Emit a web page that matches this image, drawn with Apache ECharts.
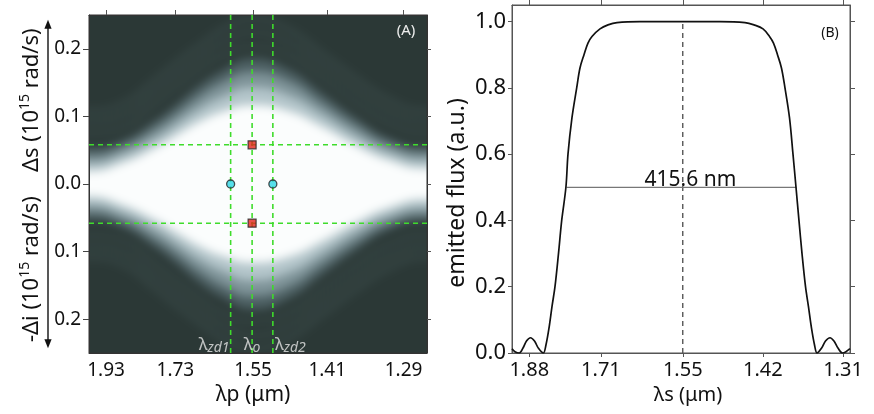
<!DOCTYPE html>
<html><head><meta charset="utf-8">
<script src="https://cdn.jsdelivr.net/npm/echarts@6/dist/echarts.min.js"></script>
<style>
html,body{margin:0;padding:0;background:#fff}
#wrap{position:relative;width:874px;height:414px;overflow:hidden}
#c{position:absolute;left:0;top:0;width:874px;height:414px;z-index:2}
#clipA{position:absolute;left:89px;top:15px;width:338px;height:338px;overflow:hidden;z-index:1;background:#2b3836}
#heat{position:absolute;left:-60px;top:-60px;width:458px;height:458px;filter:blur(5px);background:#2b3836}
</style>
</head><body><div id="wrap"><div id="clipA"><div id="heat"></div></div><div id="c"></div></div>
<script>
// ---------- Panel A : tick labels ----------
const pumpTickLabels = ['1.93', '1.73', '1.55', '1.41', '1.29'];
const detuningTicks = [-0.2, -0.1, 0.0, 0.1, 0.2];
// pump wavelength samples (um) where the contour half-heights were read
const pumpSampleLambda = [2.12, 1.986, 1.880, 1.782, 1.728, 1.671, 1.617, 1.552, 1.479, 1.419, 1.362, 1.311, 1.259, 1.20];
// half-height (1e15 rad/s) of the bright phase-matching region at several intensity levels
const contour12 = [0.054, 0.054, 0.064, 0.095, 0.118, 0.146, 0.168, 0.186, 0.170, 0.135, 0.098, 0.068, 0.055, 0.055];
const contour37 = [0.042, 0.042, 0.054, 0.082, 0.103, 0.129, 0.150, 0.166, 0.152, 0.119, 0.085, 0.058, 0.046, 0.046];
const contour62 = [0.031, 0.031, 0.043, 0.068, 0.088, 0.111, 0.129, 0.143, 0.131, 0.103, 0.071, 0.047, 0.035, 0.035];
const contour87 = [0.019, 0.019, 0.031, 0.054, 0.072, 0.092, 0.107, 0.117, 0.108, 0.085, 0.057, 0.035, 0.023, 0.023];
// faint side-lobe ripples
const ripple1 = [0.075, 0.075, 0.083, 0.118, 0.142, 0.167, 0.190, 0.203, 0.190, 0.156, 0.119, 0.089, 0.075, 0.075];
const ripple2 = [0.092, 0.092, 0.101, 0.137, 0.161, 0.186, 0.209, 0.224, 0.209, 0.175, 0.138, 0.107, 0.092, 0.092];
const ripple3 = [0.108, 0.108, 0.118, 0.155, 0.179, 0.204, 0.228, 0.244, 0.228, 0.193, 0.156, 0.124, 0.108, 0.108];
// special wavelengths / detunings
const zeroDispLambda = [1.598, 1.510];
const zeroDispNames = ['zd1', 'zd2'];
const pumpLambda0 = 1.552;
const phaseMatchDetuning = [0.058, -0.058];

// ---------- Panel B ----------
const signalTickLabels = ['1.88', '1.71', '1.55', '1.42', '1.31'];
const fluxTicks = [0, 0.2, 0.4, 0.6, 0.8, 1.0];
const signalLambda = [1.9260, 1.9179, 1.9063, 1.8964, 1.8872, 1.8767, 1.8664, 1.8562, 1.8440, 1.8373, 1.8299, 1.8225,
  1.8152, 1.8067, 1.7990, 1.7890, 1.7841, 1.7748, 1.7639, 1.7564, 1.7473, 1.7384, 1.7295, 1.7120, 1.6949, 1.6760,
  1.6297, 1.5531, 1.4867, 1.4470, 1.4332, 1.4197, 1.4101, 1.4043, 1.3985, 1.3928, 1.3878, 1.3814, 1.3765, 1.3723,
  1.3682, 1.3640, 1.3592, 1.3552, 1.3511, 1.3471, 1.3437, 1.3378, 1.3325, 1.3266, 1.3215, 1.3164, 1.3106, 1.3062, 1.3012];
const flux = [0.013, 0.004, 0.0, 0.015, 0.036, 0.046, 0.036, 0.014, 0.0, 0.025, 0.075, 0.14,
  0.20, 0.30, 0.40, 0.50, 0.60, 0.71, 0.80, 0.86, 0.90, 0.935, 0.955, 0.978, 0.99, 0.997,
  1.0, 1.0, 1.0, 0.997, 0.99, 0.978, 0.955, 0.935, 0.90, 0.86, 0.80, 0.71, 0.60, 0.50,
  0.40, 0.30, 0.20, 0.14, 0.075, 0.025, 0.0, 0.014, 0.036, 0.046, 0.036, 0.015, 0.0, 0.004, 0.013];
const halfMaxLambda = [1.7875, 1.3719];
const halfMaxLevel = 0.5;
const fwhmText = '415.6 nm';
const centerSignalLambda = 1.55;

// ---------- shared ----------
const FONT = 'Noto Sans';
const inv = l => 1 / l;
const pumpTickVals = pumpTickLabels.map(s => inv(parseFloat(s)));
const signalTickVals = signalTickLabels.map(s => inv(parseFloat(s)));
const A_MIN = 0.50343, A_MAX = 0.79541, A_YMIN = -0.25, A_YMAX = 0.25;
const B_MIN = 0.51920, B_MAX = 0.76854;

// ---------- heat layer (panel A background, softened with a CSS blur) ----------
const PAD = 30; // px of extra plot area hidden outside the clip
const exX = PAD * (A_MAX - A_MIN) / 338, exY = PAD * (A_YMAX - A_YMIN) / 338;
function band(arr, sign, color) {
  return {
    type: 'line', silent: true, symbol: 'none', smooth: true, z: 1,
    data: pumpSampleLambda.map((l, i) => [inv(l), sign * arr[i]]),
    lineStyle: { opacity: 0 },
    areaStyle: { color: color, opacity: 1, origin: 0 }
  };
}
function ripple(arr, sign) {
  return {
    type: 'line', silent: true, symbol: 'none', smooth: true, z: 1,
    data: pumpSampleLambda.map((l, i) => [inv(l), sign * arr[i]]),
    lineStyle: { color: 'rgba(120,150,150,0.2)', width: 4 }
  };
}
const heatSeries = [];
[ripple1, ripple2, ripple3].forEach(r => { heatSeries.push(ripple(r, 1)); heatSeries.push(ripple(r, -1)); });
const levels = [contour12, contour37, contour62, contour87];
const levelColors = ['#4c5f62', '#7e9398', '#b3c5ca', '#fbfdfd'];
levels.forEach((c, i) => { heatSeries.push(band(c, 1, levelColors[i])); heatSeries.push(band(c, -1, levelColors[i])); });

const heat = echarts.init(document.getElementById('heat'));
heat.setOption({
  animation: false,
  backgroundColor: '#2b3836',
  grid: { left: PAD, top: PAD, width: 338 + 2 * PAD, height: 338 + 2 * PAD, show: false },
  xAxis: { type: 'value', min: A_MIN - exX, max: A_MAX + exX, show: false },
  yAxis: { type: 'value', min: A_YMIN - exY, max: A_YMAX + exY, show: false },
  series: heatSeries
});

// ---------- main chart ----------
const green = { color: '#3fdc2c', type: [5, 4], width: 1.6 };
const series = [];
function vline(x) { return { type: 'line', xAxisIndex: 0, yAxisIndex: 0, symbol: 'none', silent: true, z: 3, lineStyle: green, data: [[x, A_YMIN], [x, A_YMAX]] }; }
function hline(y) { return { type: 'line', xAxisIndex: 0, yAxisIndex: 0, symbol: 'none', silent: true, z: 3, lineStyle: green, data: [[A_MIN, y], [A_MAX, y]] }; }
series.push(vline(inv(zeroDispLambda[0])), vline(inv(pumpLambda0)), vline(inv(zeroDispLambda[1])));
phaseMatchDetuning.forEach(d => series.push(hline(d)));
series.push({
  type: 'scatter', xAxisIndex: 0, yAxisIndex: 0, z: 5, silent: true,
  symbol: 'rect', symbolSize: 8,
  itemStyle: { color: '#e5231b', borderColor: '#222', borderWidth: 1.2 },
  data: phaseMatchDetuning.map(d => [inv(pumpLambda0), d])
});
series.push({
  type: 'scatter', xAxisIndex: 0, yAxisIndex: 0, z: 5, silent: true,
  symbol: 'circle', symbolSize: 8,
  itemStyle: { color: '#2fd6e6', borderColor: '#222', borderWidth: 1.3 },
  data: zeroDispLambda.map(l => [inv(l), 0])
});
const lblRich = {
  l: { fontSize: 17, color: '#e6e6e6', fontFamily: FONT, lineHeight: 20 },
  s: { fontSize: 14, color: '#e6e6e6', fontFamily: FONT, fontStyle: 'italic', verticalAlign: 'bottom', lineHeight: 20, padding: [5, 0, 0, 0] }
};
series.push({
  type: 'scatter', xAxisIndex: 0, yAxisIndex: 0, z: 6, silent: true, symbolSize: 0.1,
  itemStyle: { color: 'rgba(0,0,0,0)' },
  label: { show: true, rich: lblRich },
  data: [
    { value: [inv(zeroDispLambda[0]), -0.238], label: { position: 'left', distance: 1, formatter: '{l|λ}{s|' + zeroDispNames[0] + '}' } },
    { value: [inv(pumpLambda0), -0.238], label: { position: 'inside', formatter: '{l|λ}{s|o}' } },
    { value: [inv(zeroDispLambda[1]), -0.238], label: { position: 'right', distance: 2, formatter: '{l|λ}{s|' + zeroDispNames[1] + '}' } }
  ]
});

// Panel B
series.push({
  type: 'line', xAxisIndex: 2, yAxisIndex: 2, symbol: 'none', smooth: 0.35, silent: true, z: 4,
  data: signalLambda.map((l, i) => [inv(l), flux[i]]),
  lineStyle: { color: '#111', width: 1.7 }
});
series.push({
  type: 'line', xAxisIndex: 2, yAxisIndex: 2, symbol: 'none', silent: true, z: 2,
  data: [[inv(centerSignalLambda), 0], [inv(centerSignalLambda), 1.0]],
  lineStyle: { color: '#555', type: [5, 4], width: 1.4 }
});
series.push({
  type: 'line', xAxisIndex: 2, yAxisIndex: 2, symbol: 'none', silent: true, z: 2,
  data: halfMaxLambda.map(l => [inv(l), halfMaxLevel]),
  lineStyle: { color: '#777', width: 1.2 },
  markPoint: {
    silent: true, symbol: 'circle', symbolSize: 0.1, itemStyle: { color: 'rgba(0,0,0,0)' },
    label: { show: true, position: 'top', distance: 0, formatter: fwhmText, fontSize: 21, color: '#111', fontFamily: FONT, offset: [9, 3] },
    data: [{ coord: [(inv(halfMaxLambda[0]) + inv(halfMaxLambda[1])) / 2, halfMaxLevel] }]
  }
});

const axisTxt = { color: '#111', fontFamily: FONT };
const option = {
  animation: false,
  backgroundColor: 'transparent',
  textStyle: { fontFamily: FONT },
  grid: [
    { left: 89, top: 15, width: 338, height: 338, show: true, backgroundColor: 'transparent', borderColor: '#333', borderWidth: 1 },
    { left: 512, top: 5, width: 338, height: 348, show: true, backgroundColor: 'transparent', borderColor: '#555', borderWidth: 1 }
  ],
  xAxis: [
    { gridIndex: 0, type: 'value', min: A_MIN, max: A_MAX, position: 'bottom',
      axisLine: { onZero: false, lineStyle: { color: '#333' } }, axisTick: { show: false }, splitLine: { show: false },
      axisLabel: Object.assign({ customValues: pumpTickVals, formatter: v => (1 / v).toFixed(2), fontSize: 19, margin: 8 }, axisTxt),
      name: 'λp (μm)', nameLocation: 'middle', nameGap: 30,
      nameTextStyle: Object.assign({ fontSize: 21, padding: [0, 10, 0, 0] }, axisTxt) },
    { gridIndex: 0, type: 'value', min: A_MIN, max: A_MAX, position: 'top',
      axisLine: { onZero: false, lineStyle: { color: '#333' } },
      axisTick: { show: true, customValues: pumpTickVals, length: 5, lineStyle: { color: '#555' } },
      axisLabel: { show: false }, splitLine: { show: false } },
    { gridIndex: 1, type: 'value', min: B_MIN, max: B_MAX, position: 'bottom',
      axisLine: { onZero: false, lineStyle: { color: '#555' } },
      axisTick: { show: true, customValues: signalTickVals, length: 4, lineStyle: { color: '#555' } }, splitLine: { show: false },
      axisLabel: Object.assign({ customValues: signalTickVals, formatter: v => (1 / v).toFixed(2), fontSize: 20, margin: 7 }, axisTxt),
      name: 'λs (μm)', nameLocation: 'middle', nameGap: 28,
      nameTextStyle: Object.assign({ fontSize: 20, padding: [0, 0, 0, 14] }, axisTxt) },
    { gridIndex: 1, type: 'value', min: B_MIN, max: B_MAX, position: 'top',
      axisLine: { onZero: false, lineStyle: { color: '#555' } },
      axisTick: { show: true, customValues: signalTickVals, length: 5, lineStyle: { color: '#555' } },
      axisLabel: { show: false }, splitLine: { show: false } }
  ],
  yAxis: [
    { gridIndex: 0, type: 'value', min: A_YMIN, max: A_YMAX, position: 'left',
      axisLine: { onZero: false, lineStyle: { color: '#333' } },
      axisTick: { show: true, customValues: detuningTicks, length: 6, lineStyle: { color: '#444' } }, splitLine: { show: false },
      axisLabel: Object.assign({ customValues: detuningTicks, formatter: v => Math.abs(v).toFixed(1), fontSize: 19, margin: 8 }, axisTxt) },
    { gridIndex: 0, type: 'value', min: A_YMIN, max: A_YMAX, position: 'right',
      axisLine: { onZero: false, lineStyle: { color: '#333' } },
      axisTick: { show: true, customValues: detuningTicks, length: 4, lineStyle: { color: '#555' } },
      axisLabel: { show: false }, splitLine: { show: false } },
    { gridIndex: 1, type: 'value', min: 0, max: 1.05, position: 'left',
      axisLine: { onZero: false, lineStyle: { color: '#555' } },
      axisTick: { show: true, customValues: fluxTicks, length: 4, lineStyle: { color: '#555' } }, splitLine: { show: false },
      axisLabel: Object.assign({ customValues: fluxTicks, formatter: v => v.toFixed(1), fontSize: 22, margin: 6 }, axisTxt) },
    { gridIndex: 1, type: 'value', min: 0, max: 1.05, position: 'right',
      axisLine: { onZero: false, lineStyle: { color: '#555' } },
      axisTick: { show: true, customValues: fluxTicks, length: 5, lineStyle: { color: '#555' } },
      axisLabel: { show: false }, splitLine: { show: false } }
  ],
  series: series
};

const chart = echarts.init(document.getElementById('c'));
chart.setOption(option);

// decorations positioned through the axes
const yA = v => chart.convertToPixel({ yAxisIndex: 0 }, v);
const yB = v => chart.convertToPixel({ yAxisIndex: 2 }, v);
const xA = v => chart.convertToPixel({ xAxisIndex: 0 }, v);
const xB = v => chart.convertToPixel({ xAxisIndex: 2 }, v);
const arrowX = xA(A_MIN) - 41;
const aTop = yA(0.243), aBot = yA(-0.243);
const titleX = xA(A_MIN) - 57;
const supRich = {
  a: { fontSize: 22, fontFamily: FONT, fill: '#111', lineHeight: 28 },
  b: { fontSize: 14, fontFamily: FONT, fill: '#111', verticalAlign: 'top', lineHeight: 28 }
};
chart.setOption({
  graphic: [
    { type: 'line', silent: true, shape: { x1: arrowX, y1: aTop + 4, x2: arrowX, y2: aBot - 4 }, style: { stroke: '#111', lineWidth: 1.4 } },
    { type: 'polygon', silent: true, shape: { points: [[arrowX, aTop], [arrowX - 3.6, aTop + 9], [arrowX + 3.6, aTop + 9]] }, style: { fill: '#111' } },
    { type: 'polygon', silent: true, shape: { points: [[arrowX, aBot], [arrowX - 3.6, aBot - 9], [arrowX + 3.6, aBot - 9]] }, style: { fill: '#111' } },
    { type: 'text', silent: true, x: titleX, y: yA(0.124), rotation: Math.PI / 2,
      style: { text: '{a|Δs (10}{b|15}{a| rad/s)}', rich: supRich, align: 'center', verticalAlign: 'middle' } },
    { type: 'text', silent: true, x: titleX, y: yA(-0.126), rotation: Math.PI / 2,
      style: { text: '{a|-Δi (10}{b|15}{a| rad/s)}', rich: supRich, align: 'center', verticalAlign: 'middle' } },
    { type: 'text', silent: true, x: xB(B_MIN) - 55, y: yB(0.483), rotation: Math.PI / 2,
      style: { text: 'emitted flux (a.u.)', font: '23px "Noto Sans"', fill: '#111', align: 'center', verticalAlign: 'middle' } },
    { type: 'text', silent: true, x: xA(A_MAX) - 21, y: yA(0.2265),
      style: { text: '(A)', font: '15px "Noto Sans"', fill: '#eeeeee', align: 'center', verticalAlign: 'middle' } },
    { type: 'text', silent: true, x: xB(B_MAX) - 20, y: yB(0.965),
      style: { text: '(B)', font: '14px "Noto Sans"', fill: '#111', align: 'center', verticalAlign: 'middle' } }
  ]
});
</script>
</body></html>
